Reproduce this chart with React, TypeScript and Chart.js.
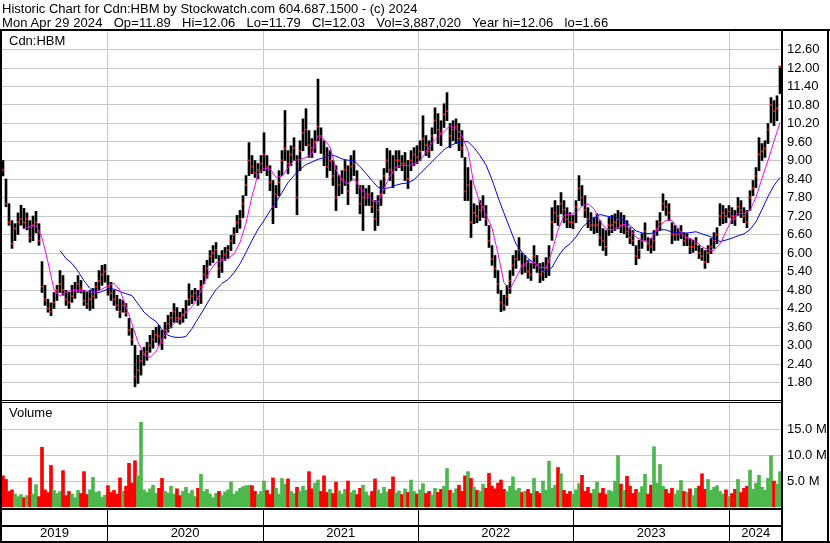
import React, { useEffect, useRef } from 'react';
import { Chart, registerables } from 'chart.js';
Chart.register(...registerables);

const FONT = '"Liberation Sans", Arial, Helvetica, sans-serif';

const headerLine1 = 'Historic Chart for Cdn:HBM by Stockwatch.com 604.687.1500 - (c) 2024';
const headerLine2 = 'Mon Apr 29 2024   Op=11.89   Hi=12.06   Lo=11.79   Cl=12.03   Vol=3,887,020   Year hi=12.06   lo=1.66';
const priceTitle = 'Cdn:HBM';
const volumeTitle = 'Volume';

const yearLabels = ['2019', '2020', '2021', '2022', '2023', '2024'];
// week index (from first bar, 2019-05-03) at which each new year starts
const yearStartWeek = [34.7, 86.7, 138.4, 190.1, 242.1];

const priceTickLabels = ['1.80', '2.40', '3.00', '3.60', '4.20', '4.80', '5.40', '6.00', '6.60', '7.20', '7.80', '8.40', '9.00', '9.60', '10.20', '10.80', '11.40', '12.00', '12.60'];
const volTickValues = [5e6, 10e6, 15e6];
const volTickLabels = ['5.0 M', '10.0 M', '15.0 M'];

// weekly high / low / close
const hi = [
  9.0, 8.4, 7.6, 7.05, 6.95, 7.3, 7.55, 7.45, 7.3, 7.05, 7.2, 7.35, 6.95,
  5.72, 4.95, 4.5, 4.38, 4.72, 4.95, 5.43, 5.27, 4.79, 4.72, 4.95, 5.05, 5.27, 5.11, 4.79, 4.72, 4.79,
  4.85, 5.05, 5.43, 5.6, 5.63, 5.27, 5.05, 4.79, 4.63, 4.5, 4.46, 4.36, 3.88, 3.55, 3.01, 2.68, 2.84, 2.94, 3.1, 3.33,
  3.49, 3.59, 3.65, 3.49, 3.75, 3.98, 4.08, 4.36, 4.23, 4.08, 4.2, 4.46, 5.0, 4.79, 4.85, 4.79, 5.11, 5.6, 5.76, 6.08,
  6.24, 6.34, 5.92, 6.08, 6.18, 6.24, 6.57, 6.82, 7.22, 7.38, 7.86, 8.51, 9.58, 9.16, 9.0, 8.9, 9.16, 9.9, 9.16, 8.83,
  8.35, 8.19, 8.67, 9.32, 10.62, 9.32, 9.48, 9.74, 9.16, 9.64, 10.35, 10.68, 9.97, 9.71, 9.97, 11.64, 10.06, 9.64, 9.42, 9.32,
  9.0, 8.83, 8.51, 8.67, 9.0, 8.83, 9.16, 9.32, 8.67, 8.19, 8.19, 8.09, 8.19, 7.96, 7.7, 7.86, 8.35, 8.74, 9.39, 9.32,
  9.16, 9.32, 9.32, 9.16, 9.26, 9.0, 9.32, 9.42, 9.48, 9.64, 10.45, 9.81, 9.64, 10.06, 10.71, 10.52, 10.29, 10.84, 11.2, 10.2,
  10.29, 10.35, 10.2, 9.97, 9.1, 8.77, 8.35, 7.6, 7.54, 7.7, 7.86, 7.54, 6.89, 6.24, 5.92, 5.43, 4.79, 4.63, 4.95, 5.43,
  5.92, 6.08, 6.5, 6.0, 5.92, 5.76, 5.66, 6.24, 5.92, 5.66, 5.69, 5.85, 6.24, 7.47, 7.7, 7.54, 7.96, 7.7, 7.47, 7.31,
  7.22, 7.7, 8.51, 8.19, 7.86, 7.47, 7.31, 7.15, 7.27, 7.05, 6.79, 6.73, 7.15, 7.22, 7.27, 7.38, 7.31, 7.22, 7.05, 6.82,
  6.73, 6.24, 6.41, 6.63, 6.98, 6.5, 6.47, 6.73, 7.05, 7.31, 7.92, 7.7, 7.6, 6.98, 6.89, 6.79, 6.89, 6.66, 6.63, 6.47,
  6.41, 6.5, 6.24, 6.15, 6.08, 6.24, 6.47, 6.66, 6.82, 7.6, 7.54, 7.44, 7.54, 7.47, 7.38, 7.8, 7.7, 7.47, 7.38, 8.02,
  8.35, 8.77, 9.74, 9.55, 9.64, 10.2, 11.04, 10.94, 11.1, 12.06,
];
const lo = [
  8.5, 7.5, 6.9, 6.15, 6.4, 6.6, 6.9, 6.8, 6.75, 6.35, 6.4, 6.65, 6.25,
  4.72, 4.3, 4.08, 3.97, 4.2, 4.46, 4.72, 4.63, 4.3, 4.2, 4.4, 4.53, 4.72, 4.7, 4.3, 4.2, 4.14,
  4.2, 4.53, 4.79, 4.95, 5.05, 4.63, 4.46, 4.3, 4.14, 3.9, 4.08, 3.95, 3.33, 3.01, 1.66, 1.77, 2.04, 2.36, 2.52, 2.78,
  2.91, 3.1, 3.01, 2.87, 3.23, 3.43, 3.57, 3.75, 3.75, 3.69, 3.75, 3.88, 4.3, 4.36, 4.46, 4.3, 4.36, 5.0, 5.18, 5.6,
  5.69, 5.82, 5.2, 5.37, 5.76, 5.82, 6.08, 6.3, 6.66, 6.8, 7.15, 7.86, 8.51, 8.57, 8.45, 8.41, 8.6, 8.67, 8.51, 8.02,
  6.95, 7.47, 7.86, 8.51, 9.0, 8.57, 8.83, 9.0, 7.24, 8.67, 9.32, 9.48, 9.1, 9.1, 9.26, 9.64, 9.23, 8.83, 8.45, 8.67,
  8.19, 7.38, 7.86, 7.92, 8.19, 7.57, 8.35, 8.51, 7.92, 7.27, 6.73, 7.54, 7.54, 7.31, 6.73, 6.89, 7.54, 7.92, 8.61, 8.35,
  8.12, 8.67, 8.77, 8.67, 8.35, 8.09, 8.67, 8.83, 8.9, 9.0, 9.32, 9.16, 9.1, 9.32, 9.87, 9.55, 9.48, 10.07, 10.29, 9.42,
  9.64, 9.55, 9.32, 9.1, 7.7, 7.7, 6.5, 6.95, 6.98, 7.05, 7.15, 6.89, 6.18, 5.6, 5.2, 4.69, 4.1, 4.14, 4.3, 4.69,
  5.27, 5.5, 5.76, 5.31, 5.37, 5.18, 5.11, 5.5, 5.37, 5.04, 5.11, 5.2, 5.27, 6.41, 6.98, 6.89, 7.27, 6.98, 6.82, 6.82,
  6.79, 6.98, 7.7, 7.54, 7.15, 6.82, 6.73, 6.63, 6.66, 6.24, 6.08, 5.92, 6.57, 6.66, 6.73, 6.79, 6.66, 6.63, 6.5, 6.3,
  6.24, 5.62, 5.82, 6.15, 6.41, 6.08, 6.0, 6.08, 6.57, 6.73, 7.38, 7.22, 7.05, 6.3, 6.41, 6.41, 6.47, 6.24, 6.24, 5.98,
  6.02, 6.08, 5.82, 5.76, 5.5, 5.69, 5.98, 6.15, 6.3, 6.89, 6.95, 6.98, 7.15, 6.95, 6.89, 7.22, 7.15, 6.98, 6.82, 7.38,
  7.86, 8.12, 8.67, 9.0, 9.1, 9.55, 10.23, 10.13, 10.29, 11.17,
];
const cl = [
  8.7, 7.6, 7.0, 6.3, 6.8, 7.0, 7.1, 7.0, 7.1, 6.5, 6.9, 7.0, 6.4,
  4.9, 4.5, 4.2, 4.1, 4.4, 4.8, 5.0, 4.8, 4.5, 4.4, 4.6, 4.8, 5.0, 4.85, 4.45, 4.35, 4.5,
  4.6, 4.9, 5.1, 5.3, 5.4, 4.9, 4.7, 4.5, 4.3, 4.1, 4.3, 4.05, 3.5, 3.2, 2.0, 2.2, 2.5, 2.7, 2.8, 3.0,
  3.2, 3.35, 3.3, 3.1, 3.5, 3.7, 3.9, 4.1, 3.9, 3.85, 4.0, 4.1, 4.5, 4.6, 4.7, 4.5, 4.9, 5.3, 5.5, 5.9,
  6.0, 6.1, 5.5, 5.8, 5.95, 6.1, 6.4, 6.6, 7.0, 7.1, 7.6, 8.2, 9.0, 8.8, 8.6, 8.7, 8.9, 9.2, 8.8, 8.3,
  7.5, 7.9, 8.3, 9.0, 9.4, 8.9, 9.2, 9.4, 7.8, 9.3, 9.9, 10.0, 9.5, 9.4, 9.6, 10.1, 9.8, 9.1, 8.8, 9.0,
  8.5, 7.8, 8.2, 8.4, 8.7, 8.0, 8.8, 8.9, 8.3, 7.6, 7.8, 7.8, 7.9, 7.5, 7.1, 7.4, 7.9, 8.5, 9.0, 8.7,
  8.6, 9.0, 9.0, 8.9, 8.9, 8.4, 9.0, 9.2, 9.1, 9.3, 9.7, 9.5, 9.3, 9.8, 10.3, 10.0, 9.9, 10.5, 10.6, 9.8,
  10.0, 10.1, 9.7, 9.4, 8.0, 8.2, 7.0, 7.3, 7.2, 7.4, 7.5, 7.1, 6.4, 5.8, 5.5, 5.0, 4.4, 4.3, 4.6, 5.1,
  5.6, 5.8, 6.1, 5.6, 5.6, 5.4, 5.3, 5.9, 5.6, 5.3, 5.4, 5.5, 5.7, 7.0, 7.3, 7.2, 7.6, 7.4, 7.1, 7.0,
  7.0, 7.5, 8.1, 7.8, 7.4, 7.1, 6.9, 6.9, 6.9, 6.5, 6.4, 6.2, 6.9, 6.9, 7.0, 7.1, 6.9, 6.9, 6.7, 6.5,
  6.4, 5.9, 6.1, 6.4, 6.7, 6.3, 6.2, 6.4, 6.8, 7.0, 7.6, 7.5, 7.3, 6.6, 6.6, 6.6, 6.7, 6.4, 6.5, 6.2,
  6.2, 6.3, 6.0, 5.9, 5.7, 6.0, 6.2, 6.4, 6.6, 7.2, 7.3, 7.2, 7.35, 7.2, 7.1, 7.5, 7.4, 7.2, 7.0, 7.8,
  8.1, 8.5, 9.2, 9.3, 9.4, 10.0, 10.8, 10.6, 10.7, 12.03,
];
// volume, millions of shares
const volM = [
  6.0, 5.3, 3.0, 3.3, 2.5, 2.0, 2.4, 1.8, 2.2, 5.6, 2.5, 4.3, 2.0, 11.5, 3.3, 2.8, 8.0, 3.2, 2.6, 3.0,
  7.0, 2.2, 3.0, 2.5, 1.8, 3.2, 2.6, 6.8, 2.4, 3.3, 5.7, 2.8, 3.0, 1.9, 2.3, 4.1, 2.8, 3.2, 2.5, 5.6,
  3.0, 4.0, 8.4, 4.6, 8.9, 6.0, 16.3, 3.3, 2.8, 3.5, 4.2, 2.6, 3.6, 5.5, 3.0, 2.7, 4.0, 2.5, 3.5, 2.2,
  3.0, 3.8, 2.6, 3.2, 2.0, 3.6, 6.3, 3.0, 3.4, 2.5, 1.8, 2.6, 3.0, 2.2, 2.9, 3.3, 4.8, 2.5, 3.0, 3.6,
  3.9, 4.1, 4.2, 4.1, 3.0, 2.4, 3.0, 5.0, 3.2, 2.4, 5.6, 3.6, 2.5, 5.5, 4.4, 5.4, 3.0, 2.6, 3.8, 3.0,
  4.0, 3.2, 6.8, 3.5, 4.6, 5.2, 3.0, 6.0, 2.8, 3.4, 2.6, 4.8, 3.1, 2.5, 3.4, 5.0, 2.8, 3.2, 2.4, 3.6,
  4.2, 2.9, 2.2, 3.0, 5.4, 3.3, 2.6, 3.8, 2.9, 3.4, 5.8, 2.7, 3.1, 2.4, 3.5, 2.8, 5.2, 3.0, 2.5, 3.3,
  4.5, 2.6, 3.0, 2.3, 3.6, 2.8, 3.4, 4.0, 7.4, 3.2, 2.7, 3.5, 4.2, 3.0, 6.0, 6.8, 5.5, 3.8, 3.2, 3.0,
  4.4, 3.6, 6.5, 4.0, 3.5, 4.6, 5.2, 3.4, 3.0, 4.0, 5.8, 3.2, 3.6, 2.8, 3.0, 3.4, 2.6, 5.5, 3.0, 2.6,
  5.0, 3.2, 8.8, 3.6, 4.2, 7.6, 6.4, 3.2, 2.5, 3.0, 2.4, 3.3, 4.5, 6.1, 3.0, 3.8, 2.6, 3.4, 4.8, 2.7,
  3.6, 2.4, 3.2, 3.0, 5.0, 9.9, 4.4, 3.2, 5.9, 4.0, 2.6, 3.4, 2.8, 3.9, 6.3, 2.5, 4.2, 11.6, 4.6, 8.2,
  4.0, 3.4, 2.6, 3.6, 2.5, 3.2, 5.1, 3.0, 2.8, 3.5, 2.2, 3.6, 4.0, 6.4, 3.4, 5.3, 3.2, 3.8, 4.1, 3.0,
  2.5, 3.3, 2.0, 2.6, 3.4, 5.3, 2.8, 3.6, 4.0, 7.1, 3.4, 4.6, 6.1, 3.8, 3.2, 5.5, 9.9, 5.0, 4.4, 6.8,
];

// moving averages, one value every 2 weeks
const maStep = 2;
const magentaStart = 7;
const magentaMA = [
  6.8, 6.86, 6.89, 6.5, 5.7, 4.8, 4.6, 4.74, 4.79, 4.79, 4.77, 4.74, 4.73, 4.83, 4.94, 5.02, 4.79, 4.25, 3.71, 3.1,
  2.73, 2.61, 2.8, 3.2, 3.5, 3.71, 3.9, 4.07, 4.26, 4.55, 5.02, 5.43, 5.69, 5.76, 5.82, 5.97, 6.34, 6.97, 7.84, 8.56,
  8.75, 8.73, 8.45, 8.49, 8.77, 9.02, 9.02, 9.1, 9.22, 9.81, 9.68, 9.44, 8.7, 8.35, 8.25, 8.41, 8.12, 7.9, 7.7, 7.63,
  8.08, 8.51, 8.79, 8.85, 8.83, 8.88, 9.0, 9.27, 9.58, 9.78, 9.94, 10.13, 10.04, 9.8, 9.3, 8.2, 7.63, 7.24, 6.82, 5.98,
  5.03, 4.83, 5.2, 5.57, 5.73, 5.7, 5.53, 5.53, 6.05, 6.75, 7.22, 7.25, 7.31, 7.52, 7.6, 7.43, 7.05, 6.78, 6.75, 6.82,
  6.93, 6.78, 6.51, 6.41, 6.36, 6.6, 6.89, 7.06, 7.06, 6.79, 6.53, 6.47, 6.38, 6.2, 6.11, 6.08, 6.3, 6.7, 7.1, 7.29,
  7.28, 7.38, 7.81, 8.42, 9.0, 9.63, 10.23,
];
const blueStart = 19;
const blueMA = [
  6.08, 5.82, 5.66, 5.41, 5.1, 4.85, 4.69, 4.75, 4.83, 4.83, 4.75, 4.68, 4.62, 4.35, 4.08, 3.91, 3.78, 3.52, 3.33, 3.27,
  3.26, 3.29, 3.55, 3.87, 4.19, 4.52, 4.81, 5.01, 5.14, 5.36, 5.65, 6.02, 6.41, 6.77, 7.05, 7.37, 7.65, 7.96, 8.29, 8.51,
  8.71, 8.87, 8.95, 9.04, 9.09, 9.19, 9.14, 9.05, 9.01, 9.0, 8.8, 8.58, 8.35, 8.13, 8.09, 8.12, 8.2, 8.25, 8.27, 8.38,
  8.57, 8.77, 8.96, 9.16, 9.35, 9.48, 9.56, 9.62, 9.61, 9.42, 9.16, 8.86, 8.38, 7.81, 7.29, 6.79, 6.29, 6.02, 5.82, 5.68,
  5.49, 5.38, 5.53, 5.88, 6.15, 6.3, 6.52, 6.82, 7.01, 7.13, 7.25, 7.2, 7.17, 7.13, 7.06, 6.89, 6.72, 6.65, 6.63, 6.65,
  6.76, 6.75, 6.68, 6.66, 6.64, 6.66, 6.69, 6.62, 6.56, 6.48, 6.37, 6.42, 6.48, 6.56, 6.62, 6.76, 7.01, 7.41, 7.83, 8.19,
  8.45,
];

const RED = '#ff0000';
const GREEN = '#4cb84c';
const GRID = '#c8c8c8';

const framePlugin = {
  id: 'swFrames',
  afterDraw(chart: any) {
    const { ctx, chartArea: ca, scales } = chart;
    const W = chart.width;
    const H = chart.height;
    const xs = scales.x;
    const split = scales.y.bottom;
    const volBottom = scales.v.bottom;
    ctx.save();
    ctx.fillStyle = '#000';
    ctx.fillRect(0, 29, W, 2);
    ctx.fillRect(0, 29, 2, H - 29);
    ctx.fillRect(Math.round(ca.right) - 1, 29, 2, H - 29);
    ctx.fillRect(W - 3, 29, 2, H - 29);
    ctx.fillRect(0, Math.round(split) - 1, ca.right, 1);
    ctx.fillRect(0, Math.round(split) + 1, ca.right, 1);
    ctx.fillRect(0, Math.round(volBottom) + 1, ca.right, 2);
    ctx.fillRect(0, 525, ca.right, 2);
    ctx.fillRect(0, H - 2, W, 2);
    yearStartWeek.forEach((w) => {
      const px = Math.round(xs.getPixelForValue(w));
      ctx.fillRect(px, Math.round(volBottom) + 1, 1, H - volBottom - 1);
    });
    ctx.restore();
  },
};

export default function App() {
  const ref = useRef<HTMLCanvasElement | null>(null);

  useEffect(() => {
    const canvas = ref.current;
    if (!canvas) return;
    const n = hi.length;
    const idx = Array.from({ length: n }, (_, i) => i);
    const ranges = idx.map((i) => ({ x: i, y: [lo[i], hi[i]] }));
    const closes = idx.map((i) => ({ x: i, y: cl[i] }));
    const vols = idx.map((i) => ({ x: i, y: volM[i] * 1e6 }));
    const volColors = idx.map((i) => (i === 0 || cl[i] < cl[i - 1] ? RED : GREEN));
    const magPts = magentaMA.map((v, k) => ({ x: magentaStart + maStep * k, y: v }));
    const bluePts = blueMA.map((v, k) => ({ x: blueStart + maStep * k, y: v }));
    const priceTickValues = priceTickLabels.map((s) => parseFloat(s));
    const xMin = -1 / 3;
    const xMax = n - 1 + 2 / 3;
    const bounds = [xMin, ...yearStartWeek, xMax];
    const yearMid = yearLabels.map((_, i) => (bounds[i] + bounds[i + 1]) / 2);
    const tickFont = { family: FONT, size: 13 };

    const chart = new Chart(canvas, {
      type: 'bar',
      data: {
        datasets: [
          {
            type: 'line',
            data: magPts,
            borderColor: '#ff00ff',
            borderWidth: 1,
            pointRadius: 0,
            xAxisID: 'x',
            yAxisID: 'y',
            order: 0,
          },
          {
            type: 'line',
            data: bluePts,
            borderColor: '#0000ff',
            borderWidth: 1,
            pointRadius: 0,
            xAxisID: 'x',
            yAxisID: 'y',
            order: 0,
          },
          {
            type: 'line',
            data: closes,
            showLine: false,
            pointStyle: 'rect',
            pointRadius: 1.3,
            pointBorderWidth: 0,
            pointBorderColor: RED,
            pointBackgroundColor: RED,
            xAxisID: 'x',
            yAxisID: 'y',
            order: 1,
          },
          {
            type: 'bar',
            data: ranges as any,
            backgroundColor: '#000',
            barThickness: 2,
            grouped: false,
            xAxisID: 'x',
            yAxisID: 'y',
            order: 2,
          },
          {
            type: 'bar',
            data: vols,
            backgroundColor: volColors,
            barThickness: 3,
            grouped: false,
            xAxisID: 'x',
            yAxisID: 'v',
            order: 3,
          },
        ],
      },
      options: {
        animation: false,
        responsive: false,
        maintainAspectRatio: false,
        events: [],
        layout: { autoPadding: false, padding: { top: 31, left: 2, right: 0, bottom: 0 } },
        plugins: { legend: { display: false }, tooltip: { enabled: false }, title: { display: false } },
        scales: {
          x: {
            type: 'linear',
            position: 'bottom',
            min: xMin,
            max: xMax,
            offset: false,
            grid: { color: GRID, lineWidth: 1, drawTicks: false, offset: false },
            border: { display: false },
            ticks: { display: false },
            afterBuildTicks: (s: any) => {
              s.ticks = yearStartWeek.map((v) => ({ value: v }));
            },
            afterFit: (s: any) => {
              s.height = 0;
            },
          },
          x2: {
            type: 'linear',
            position: 'bottom',
            min: xMin,
            max: xMax,
            offset: false,
            grid: { display: false, drawTicks: false },
            border: { display: false },
            ticks: {
              autoSkip: false,
              maxRotation: 0,
              padding: 19,
              color: '#000',
              font: tickFont,
              callback: (_v: any, i: number) => yearLabels[i],
            },
            afterBuildTicks: (s: any) => {
              s.ticks = yearMid.map((v) => ({ value: v }));
            },
            afterFit: (s: any) => {
              s.height = 36;
            },
          },
          y: {
            type: 'linear',
            position: 'right',
            stack: 'panes',
            stackWeight: 370,
            min: 1.2,
            max: 13.2,
            grid: { color: GRID, lineWidth: 1, drawTicks: false },
            border: { display: false },
            ticks: {
              autoSkip: false,
              padding: 5,
              color: '#000',
              font: tickFont,
              callback: (_v: any, i: number) => priceTickLabels[i],
            },
            afterBuildTicks: (s: any) => {
              s.ticks = priceTickValues.map((v) => ({ value: v }));
            },
            afterFit: (s: any) => {
              s.width = 48;
            },
          },
          v: {
            type: 'linear',
            position: 'right',
            stack: 'panes',
            stackWeight: 106,
            min: 0,
            max: 20.4e6,
            grid: { color: GRID, lineWidth: 1, drawTicks: false },
            border: { display: false },
            ticks: {
              autoSkip: false,
              padding: 5,
              color: '#000',
              font: tickFont,
              callback: (_v: any, i: number) => volTickLabels[i],
            },
            afterBuildTicks: (s: any) => {
              s.ticks = volTickValues.map((v) => ({ value: v }));
            },
            afterFit: (s: any) => {
              s.width = 48;
            },
          },
        },
      } as any,
      plugins: [framePlugin],
    });
    return () => chart.destroy();
  }, []);

  const textStyle: React.CSSProperties = {
    position: 'absolute',
    fontFamily: FONT,
    fontSize: '13px',
    lineHeight: '14px',
    color: '#000',
    whiteSpace: 'pre',
    margin: 0,
  };

  return (
    <div style={{ position: 'absolute', left: 0, top: 0, width: 830, height: 543, background: '#fff', overflow: 'hidden' }}>
      <canvas ref={ref} width={830} height={543} style={{ position: 'absolute', left: 0, top: 0, width: 830, height: 543 }} />
      <div style={{ ...textStyle, left: 2, top: 2 }}>{headerLine1}</div>
      <div style={{ ...textStyle, left: 2, top: 16, letterSpacing: '0.1px' }}>{headerLine2}</div>
      <div style={{ ...textStyle, left: 9, top: 34 }}>{priceTitle}</div>
      <div style={{ ...textStyle, left: 9, top: 406 }}>{volumeTitle}</div>
    </div>
  );
}
